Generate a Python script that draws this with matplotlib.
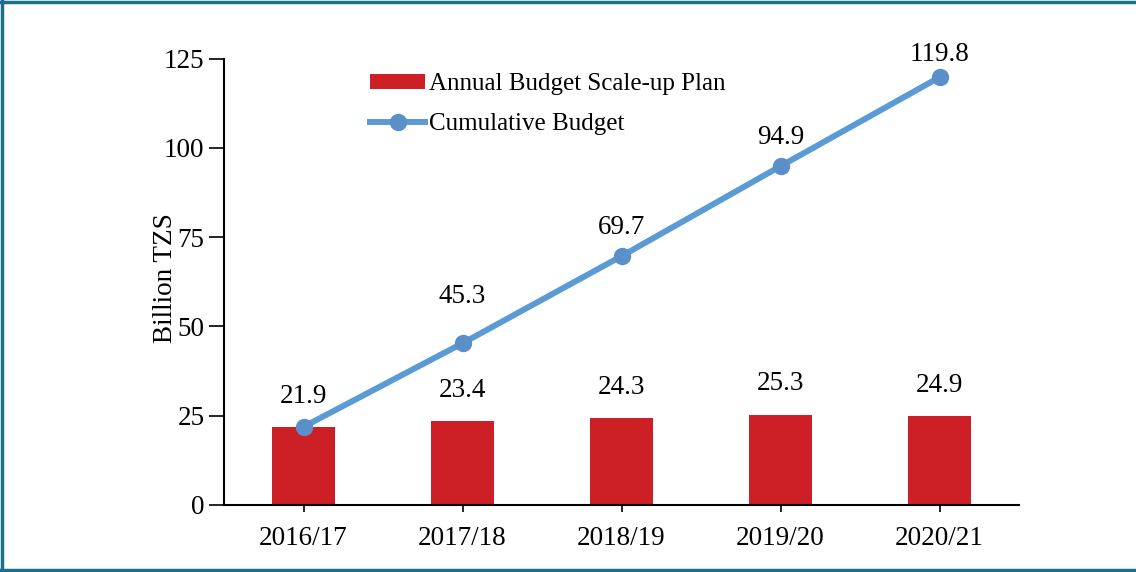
import matplotlib.pyplot as plt
from matplotlib.lines import Line2D
import numpy as np

years = ['2016/17', '2017/18', '2018/19', '2019/20', '2020/21']
annual = [21.9, 23.4, 24.3, 25.3, 24.9]
cumulative = [21.9, 45.3, 69.7, 94.9, 119.8]
yticks = [0, 25, 50, 75, 100, 125]

plt.rcParams['font.family'] = ['Liberation Serif', 'DejaVu Serif']
fs = 19.5

fig = plt.figure(figsize=(11.36, 5.72), dpi=100)
ax = fig.add_axes([224/1136, 1 - 505/572, (1019-224)/1136, (505-58.7)/572])

x = np.arange(len(years))
bars = ax.bar(x, annual, width=0.4, color='#cc1f26', label='Annual Budget Scale-up Plan', zorder=2)
line, = ax.plot(x, cumulative, color='#5b9bd5', lw=4.3, marker='o', ms=11.5,
                mfc='#5b8fc9', mec='#5b8fc9', label='Cumulative Budget', zorder=3)

# data labels (bar labels sit above bars, line labels above points)
for i, v in enumerate(annual):
    ax.text(x[i], v + 8.6, f'{v}', ha='center', va='center', fontsize=fs)
line_off = [0, 13, 8, 8, 6.5]
for i, v in enumerate(cumulative[1:], start=1):
    ax.text(x[i], v + line_off[i], f'{v}', ha='center', va='center', fontsize=fs)

ax.set_xlim(-0.5, 4.5)
ax.set_ylim(0, 125)
ax.set_xticks(x)
ax.set_xticklabels(years, fontsize=fs)
ax.set_yticks(yticks)
ax.tick_params(axis='y', labelsize=fs, direction='out', length=11, width=1.2, pad=3)
ax.tick_params(axis='x', direction='out', length=5, width=1.2, pad=10)
ax.set_ylabel('Billion TZS', fontsize=fs)
ax.yaxis.set_label_coords(-0.058, 0.509)
for s in ['top', 'right']:
    ax.spines[s].set_visible(False)
for s in ['left', 'bottom']:
    ax.spines[s].set_linewidth(1.5)

ax.legend([bars, line], ['Annual Budget Scale-up Plan', 'Cumulative Budget'],
          loc='upper left', bbox_to_anchor=(0.184, 0.967), frameon=False, fontsize=18,
          borderpad=0, borderaxespad=0, handlelength=2.2, handleheight=0.5,
          handletextpad=0.15, labelspacing=0.7)

# frame around the picture (left, top, bottom)
c = '#1b6f8a'
fig.add_artist(Line2D([0.0015, 0.0015], [0, 1], transform=fig.transFigure, color=c, lw=2.5))
fig.add_artist(Line2D([0, 1], [0.997, 0.997], transform=fig.transFigure, color=c, lw=2.5))
fig.add_artist(Line2D([0, 1], [0.003, 0.003], transform=fig.transFigure, color=c, lw=2.5))

fig.savefig('out.png', dpi=100)
